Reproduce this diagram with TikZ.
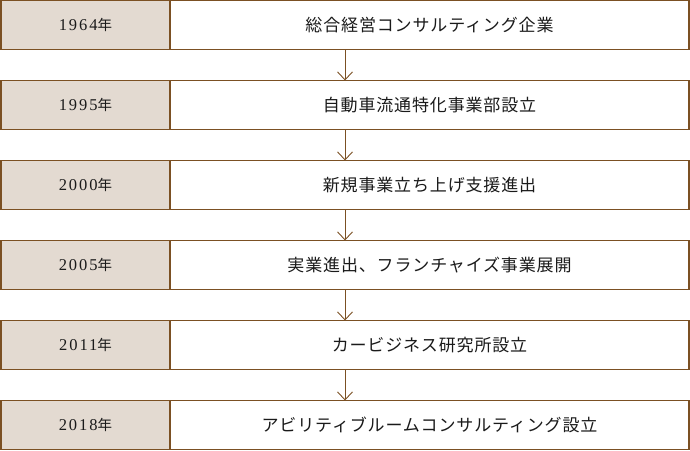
\documentclass[tikz,border=0pt]{standalone}
\usepackage{fontspec}
\usepackage{xcolor}
\usepackage{tikz}
\usetikzlibrary{arrows.meta,calc,positioning}
\newfontfamily\jpfont[LetterSpace=5]{Noto Sans CJK JP}
\newfontfamily\yrfont[LetterSpace=12]{Liberation Serif}
\definecolor{brownline}{HTML}{7B5023}
\definecolor{beigefill}{HTML}{E3DAD1}
\definecolor{inkmain}{HTML}{1A1A1A}
\tikzset{
  yearbox/.style={draw=brownline,line width=1.2pt,fill=beigefill,
    minimum width=169pt,minimum height=49pt,inner sep=0pt,outer sep=0pt,
    text=inkmain,font=\fontsize{16.5pt}{18pt}\selectfont},
  eventbox/.style={draw=brownline,line width=1.2pt,fill=white,
    minimum width=519pt,minimum height=49pt,inner sep=0pt,outer sep=0pt,
    text=inkmain,font=\jpfont\fontsize{17pt}{20pt}\selectfont},
  flow/.style={-{Straight Barb[length=8pt,width=15pt,line width=0.9pt]},
    brownline,line width=1pt}
}
\newcommand{\yr}[1]{{\yrfont #1}{\jpfont\fontsize{14.5pt}{18pt}\selectfont 年}}

\begin{document}
\begin{tikzpicture}[x=1pt,y=-1pt]
  \useasboundingbox (0,0) rectangle (690,450);
  \node[yearbox,anchor=north west] (y1) at (1,0.5) {\yr{1964}};
  \node[eventbox,right=0pt of y1] (e1) {総合経営コンサルティング企業};
  \node[yearbox,below=31pt of y1] (y2) {\yr{1995}};
  \node[eventbox,right=0pt of y2] (e2) {自動車流通特化事業部設立};
  \node[yearbox,below=31pt of y2] (y3) {\yr{2000}};
  \node[eventbox,right=0pt of y3] (e3) {新規事業立ち上げ支援進出};
  \node[yearbox,below=31pt of y3] (y4) {\yr{2005}};
  \node[eventbox,right=0pt of y4] (e4) {実業進出、フランチャイズ事業展開};
  \node[yearbox,below=31pt of y4] (y5) {\yr{2011}};
  \node[eventbox,right=0pt of y5] (e5) {カービジネス研究所設立};
  \node[yearbox,below=31pt of y5] (y6) {\yr{2018}};
  \node[eventbox,right=0pt of y6] (e6) {アビリティブルームコンサルティング設立};
  % arrows between the rows, from the middle of the whole row
  \foreach \a/\b in {1/2,2/3,3/4,4/5,5/6}
    \draw[flow] ($(y\a.south west)!.5!(e\a.south east)$)
      -- ($(y\b.north west)!.5!(e\b.north east)$);
\end{tikzpicture}
\end{document}
